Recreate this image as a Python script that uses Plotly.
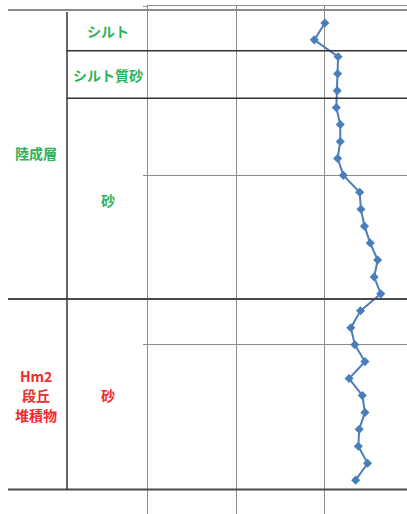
import plotly.graph_objects as go

# depth (m) and measured value
depth = [1, 2, 3, 4, 5, 6, 7, 8, 9, 10, 11, 12, 13, 14,
         15, 16, 17, 18, 19, 20, 21, 22, 23, 24, 25, 26, 27, 28]
value = [20.1, 18.9, 21.6, 21.55, 21.5, 21.4, 21.85, 21.85, 21.55, 22.2, 24.05, 24.2, 24.6, 25.25,
         26.1, 25.7, 26.45, 24.15, 23.05, 23.5, 24.65, 22.85, 24.35, 24.65, 24.0, 23.9, 24.95, 23.6]

# layer boundaries (depth, m)
soil_bounds = [0.24, 2.64, 5.45, 17.31, 28.55]
soil_names = ["シルト", "シルト質砂", "砂", "砂"]
soil_colors = ["#2DB35B", "#2DB35B", "#2DB35B", "#F52A2A"]
unit_bounds = [0.24, 17.31, 28.55]
unit_names = [["陸成層"], ["Hm2", "段丘", "堆積物"]]
unit_colors = ["#2DB35B", "#F52A2A"]

W, H = 407, 514
fig = go.Figure()

fig.add_trace(go.Scatter(
    x=value, y=depth, mode="lines+markers",
    line=dict(color="#4A7EBB", width=2),
    marker=dict(symbol="diamond", size=7, color="#4A7EBB"),
    showlegend=False, hoverinfo="skip"))

shapes = []
# full-width lines (unit boundaries)
for d in [soil_bounds[0], soil_bounds[3], soil_bounds[4]]:
    col = "#8a8a8a" if d == soil_bounds[0] else "#4a4a4a"
    shapes.append(dict(type="line", xref="paper", yref="y", x0=8 / W, x1=1, y0=d, y1=d,
                       line=dict(color=col, width=2)))
# soil boundaries inside upper unit
for d in [soil_bounds[1], soil_bounds[2]]:
    shapes.append(dict(type="line", xref="paper", yref="y", x0=67 / W, x1=1, y0=d, y1=d,
                       line=dict(color="#333333", width=1.5)))
# vertical divider between columns
shapes.append(dict(type="line", xref="paper", yref="y", x0=67 / W, x1=67 / W,
                   y0=0.36, y1=soil_bounds[4], line=dict(color="#333333", width=1.5)))

lab_font = dict(size=14, family="Noto Sans CJK JP", weight="bold")
ann = []
for i, name in enumerate(soil_names):
    mid = (soil_bounds[i] + soil_bounds[i + 1]) / 2
    ann.append(dict(x=108 / W, xref="paper", y=mid, yref="y", text=name,
                    xanchor="center", yanchor="middle", showarrow=False, yshift=-1,
                    font=dict(lab_font, color=soil_colors[i])))
unit_shift = [2, -1]
for i, lines in enumerate(unit_names):
    mid = (unit_bounds[i] + unit_bounds[i + 1]) / 2
    n = len(lines)
    for k, line in enumerate(lines):
        ann.append(dict(x=36 / W, xref="paper", y=mid, yref="y", text=line,
                        xanchor="center", yanchor="middle", showarrow=False,
                        yshift=((n - 1) / 2 - k) * 19.5 + unit_shift[i],
                        font=dict(lab_font, color=unit_colors[i])))

fig.update_layout(
    width=W, height=H,
    margin=dict(l=0, r=0, t=0, b=0),
    paper_bgcolor="white", plot_bgcolor="white",
    xaxis=dict(domain=[148 / W, 1], range=[0, (W - 148) / 8.8], dtick=10,
               showgrid=True, gridcolor="#8c8c8c", gridwidth=1,
               showticklabels=False, zeroline=False, side="top",
               showline=True, linecolor="#8c8c8c", linewidth=1),
    yaxis=dict(domain=[0, 1 - 6 / H], range=[30, 0], dtick=10,
               showgrid=True, gridcolor="#8c8c8c", gridwidth=1,
               showticklabels=False, zeroline=False,
               showline=True, linecolor="#8c8c8c", linewidth=1,
               ticks="outside", ticklen=4, tickcolor="#8c8c8c"),
    shapes=shapes,
    annotations=ann,
)

# page body margin would shift the figure by 8px
fig.write_html("out.html", config={"displayModeBar": False},
               post_script="document.body.style.margin='0';")
